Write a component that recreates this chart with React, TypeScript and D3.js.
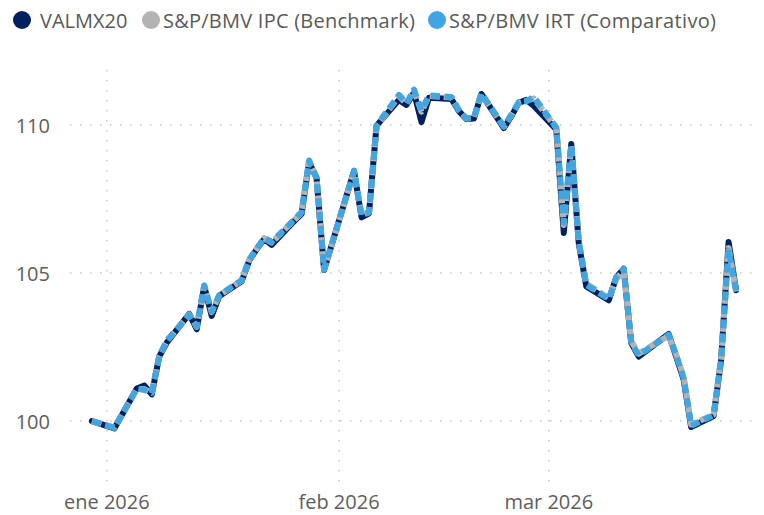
import React from "react";
import * as d3 from "d3";

const dates: string[] = [
  "2025-12-30", "2026-01-02", "2026-01-05", "2026-01-06", "2026-01-07", "2026-01-08", "2026-01-09",
  "2026-01-12", "2026-01-13", "2026-01-14", "2026-01-15", "2026-01-16", "2026-01-19", "2026-01-20",
  "2026-01-21", "2026-01-22", "2026-01-23", "2026-01-26", "2026-01-27", "2026-01-28", "2026-01-29",
  "2026-01-30", "2026-02-03", "2026-02-04", "2026-02-05", "2026-02-06", "2026-02-09", "2026-02-10",
  "2026-02-11", "2026-02-12", "2026-02-13", "2026-02-16", "2026-02-17", "2026-02-18", "2026-02-19",
  "2026-02-20", "2026-02-23", "2026-02-24", "2026-02-25", "2026-02-26", "2026-02-27", "2026-03-02",
  "2026-03-03", "2026-03-04", "2026-03-05", "2026-03-06", "2026-03-09", "2026-03-10", "2026-03-11",
  "2026-03-12", "2026-03-13", "2026-03-17", "2026-03-18", "2026-03-19", "2026-03-20", "2026-03-23",
  "2026-03-24", "2026-03-25", "2026-03-26",
];

const valmx20: number[] = [
  100.0, 99.75, 101.1, 101.2, 100.9, 102.18, 102.65,
  103.62, 103.1, 104.55, 103.55, 104.22, 104.72, 105.42,
  105.8, 106.15, 105.95, 106.75, 107.0, 108.75, 108.2,
  105.1, 108.45, 106.88, 107.02, 109.98, 110.85, 110.68,
  111.1, 110.1, 110.92, 110.88, 110.47, 110.2, 110.22,
  111.05, 109.9, 110.3, 110.75, 110.85, 110.65, 109.85,
  106.35, 109.36, 106.0, 104.55, 104.08, 104.85, 105.15,
  102.64, 102.18, 102.94, 102.18, 101.4, 99.8, 100.17,
  102.05, 106.05, 104.42,
];

const ipcBenchmark: number[] = [
  100.0, 99.78, 101.08, 101.08, 100.95, 102.2, 102.7,
  103.6, 103.18, 104.58, 103.68, 104.25, 104.75, 105.45,
  105.82, 106.18, 106.03, 106.78, 107.05, 108.78, 108.22,
  105.12, 108.42, 106.95, 107.05, 109.95, 110.98, 110.72,
  111.18, 110.45, 110.98, 110.93, 110.5, 110.22, 110.25,
  111.05, 109.95, 110.33, 110.75, 110.82, 110.9, 109.9,
  106.62, 109.3, 106.1, 104.65, 104.15, 104.8, 105.1,
  102.7, 102.28, 102.88, 102.25, 101.5, 99.88, 100.22,
  102.1, 105.85, 104.38,
];

const irtComparativo: number[] = [
  100.0, 99.77, 101.1, 101.05, 100.95, 102.2, 102.72,
  103.58, 103.2, 104.58, 103.7, 104.25, 104.76, 105.45,
  105.82, 106.18, 106.05, 106.8, 107.06, 108.8, 108.22,
  105.12, 108.45, 106.95, 107.06, 109.98, 111.02, 110.74,
  111.2, 110.5, 111.0, 110.95, 110.5, 110.22, 110.25,
  111.07, 109.95, 110.35, 110.78, 110.8, 110.95, 109.92,
  106.7, 109.32, 106.05, 104.6, 104.12, 104.85, 105.15,
  102.66, 102.22, 102.92, 102.22, 101.45, 99.84, 100.2,
  102.08, 105.8, 104.4,
];

const seriesNames: string[] = ["VALMX20", "S&P/BMV IPC (Benchmark)", "S&P/BMV IRT (Comparativo)"];
const seriesColors: string[] = ["#002060", "#B3B3B3", "#41A5E1"];

const yTicks: number[] = [100, 105, 110];
const xTickDates: string[] = ["2026-01-01", "2026-02-01", "2026-03-01"];
const xTickLabels: string[] = ["ene 2026", "feb 2026", "mar 2026"];

const W = 764;
const H = 515;
const plotLeft = 70;
const plotRight = 752;
const plotTop = 70;
const plotBottom = 482;

const parse = (s: string) => {
  const [y, m, d] = s.split("-").map(Number);
  return new Date(Date.UTC(y, m - 1, d));
};

export default function App() {
  const x = d3
    .scaleUtc()
    .domain([new Date(Date.UTC(2025, 11, 27, 2)), new Date(Date.UTC(2026, 2, 28, 3))])
    .range([plotLeft, plotRight]);
  const y = d3.scaleLinear().domain([97.94, 111.86]).range([plotBottom, plotTop]);

  const parsed = dates.map(parse);
  const line = d3
    .line<number>()
    .x((_, i) => x(parsed[i]))
    .y((v) => y(v));

  const font = "'Segoe UI', 'Open Sans', sans-serif";
  const legendDots = [22, 151, 437];
  const legendText = [40, 163, 449];

  return (
    <svg
      width={W}
      height={H}
      style={{ position: "absolute", left: 0, top: 0, background: "#fff" }}
      fontFamily={font}
    >
      {/* legend */}
      {seriesNames.map((n, i) => (
        <g key={n}>
          <circle cx={legendDots[i]} cy={20} r={9} fill={seriesColors[i]} />
          <text
            x={legendText[i]}
            y={20}
            dominantBaseline="central"
            fontSize={20}
            fill="#595959"
            textLength={i === 0 ? undefined : i === 1 ? 252 : 267}
          >
            {n}
          </text>
        </g>
      ))}

      {/* gridlines */}
      {yTicks.map((t) => (
        <line
          key={"h" + t}
          x1={plotLeft}
          x2={plotRight}
          y1={y(t)}
          y2={y(t)}
          stroke="#C8C6C4"
          strokeWidth={1.5}
          strokeDasharray="1.5 8.5"
        />
      ))}
      {xTickDates.map((d) => (
        <line
          key={"v" + d}
          x1={x(parse(d))}
          x2={x(parse(d))}
          y1={plotTop}
          y2={plotBottom}
          stroke="#C8C6C4"
          strokeWidth={1.5}
          strokeDasharray="1.5 8.5"
        />
      ))}

      {/* y labels */}
      {yTicks.map((t) => (
        <text
          key={"yl" + t}
          x={50}
          y={y(t)}
          textAnchor="end"
          dominantBaseline="central"
          fontSize={20}
          fill="#605E5C"
        >
          {t}
        </text>
      ))}

      {/* x labels */}
      {xTickDates.map((d, i) => (
        <text key={"xl" + d} x={x(parse(d))} y={509} textAnchor="middle" fontSize={20} fill="#605E5C">
          {xTickLabels[i]}
        </text>
      ))}

      {/* series */}
      <path
        d={line(valmx20) || ""}
        fill="none"
        stroke={seriesColors[0]}
        strokeWidth={6}
        strokeLinecap="round"
        strokeLinejoin="round"
      />
      <path
        d={line(ipcBenchmark) || ""}
        fill="none"
        stroke={seriesColors[1]}
        strokeWidth={6}
        strokeLinejoin="round"
        strokeDasharray="10 4"
      />
      <path
        d={line(irtComparativo) || ""}
        fill="none"
        stroke={seriesColors[2]}
        strokeWidth={6}
        strokeLinejoin="round"
        strokeDasharray="9 5"
        strokeDashoffset={-0.5}
      />
    </svg>
  );
}
